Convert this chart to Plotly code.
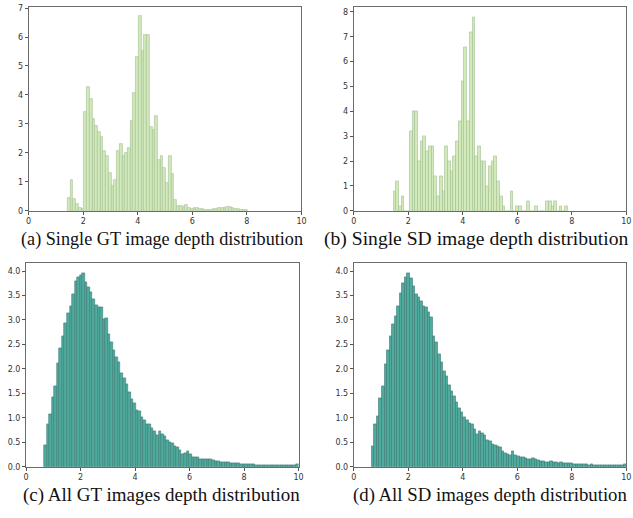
import plotly.graph_objects as go

# ---- data -------------------------------------------------------------
# Single GT image: depth histogram (bin width 0.1)
gt_single_start = 1.43
gt_single_width = 0.1
gt_single = [0.43, 1.08, 0.41, 0.24, 0.10, 0.07,
             3.40, 4.27, 3.86, 3.17, 2.93, 2.73, 2.56, 2.05, 1.91, 1.32, 0.85,
             1.08, 2.05, 2.31, 1.88, 1.98, 2.17, 3.10, 4.07, 5.32, 6.72, 5.51,
             6.06, 6.09, 2.90, 2.80, 3.27, 1.76, 1.88, 1.49, 0.95, 1.88, 1.28,
             0.38, 0.18, 0.15, 0.14, 0.19, 0.10, 0.07, 0.09, 0.08, 0.06, 0.05,
             0.04, 0.04, 0.04, 0.06, 0.07, 0.08, 0.11, 0.09, 0.13, 0.13, 0.08,
             0.06, 0.05, 0.04, 0.03, 0.02]

# Single SD image: depth histogram (bin width 0.1)
sd_single_start = 1.45
sd_single_width = 0.1
sd_single = [0.8, 1.2, 0.2, 0.6, 0.0, 0.0,
             3.2, 4.0, 4.0, 2.0, 2.8, 3.0, 2.4, 2.6, 2.6, 1.4,
             0.6, 1.4, 0.8, 2.6, 2.0, 1.6, 2.2, 2.8, 3.6, 5.2,
             6.6, 3.6, 7.2, 7.8, 2.2, 2.6, 2.0, 2.0, 1.0, 1.8,
             2.0, 2.2, 1.2, 0.6, 0.2, 0.0, 0.0, 0.8, 0.0, 0.2,
             0.2, 0.0, 0.0, 0.4, 0.0, 0.0, 0.2, 0.0, 0.0, 0.0,
             0.4, 0.4, 0.2, 0.4, 0.0, 0.2, 0.0, 0.2]

# All GT images: 100 bins up to depth 10
gt_all_start = 0.664
gt_all = [0.44, 0.86, 1.08, 1.42, 1.65, 2.11, 2.43, 2.66, 2.94, 3.13,
          3.29, 3.52, 3.79, 3.88, 3.91, 3.96, 3.77, 3.66, 3.56, 3.42,
          3.30, 3.26, 3.26, 3.02, 3.03, 2.70, 2.54, 2.38, 2.23, 2.13,
          1.91, 1.81, 1.68, 1.53, 1.38, 1.30, 1.15, 1.13, 1.01, 0.95,
          0.86, 0.87, 0.79, 0.72, 0.64, 0.72, 0.66, 0.63, 0.54, 0.50,
          0.48, 0.42, 0.39, 0.34, 0.25, 0.28, 0.31, 0.26, 0.20, 0.20,
          0.19, 0.15, 0.15, 0.15, 0.16, 0.16, 0.14, 0.11, 0.11, 0.10,
          0.09, 0.10, 0.09, 0.08, 0.07, 0.07, 0.07, 0.06, 0.06, 0.05,
          0.05, 0.05, 0.05, 0.04, 0.04, 0.04, 0.04, 0.03, 0.03, 0.03,
          0.03, 0.03, 0.03, 0.03, 0.03, 0.03, 0.03, 0.03, 0.04, 0.05]

# All SD images: 100 bins up to depth 10
sd_all_start = 0.652
sd_all = [0.42, 0.86, 1.04, 1.40, 1.65, 2.09, 2.39, 2.66, 2.91, 3.08,
          3.28, 3.55, 3.76, 3.87, 3.95, 3.85, 3.70, 3.53, 3.46, 3.39,
          3.28, 3.26, 3.16, 3.05, 2.66, 2.54, 2.29, 2.14, 1.96, 1.86,
          1.66, 1.54, 1.44, 1.31, 1.19, 1.12, 1.01, 0.96, 0.88, 0.87,
          0.76, 0.66, 0.72, 0.69, 0.64, 0.55, 0.52, 0.47, 0.43, 0.41,
          0.39, 0.32, 0.28, 0.25, 0.24, 0.31, 0.24, 0.21, 0.20, 0.19,
          0.17, 0.15, 0.16, 0.17, 0.16, 0.13, 0.12, 0.11, 0.10, 0.10,
          0.11, 0.09, 0.09, 0.08, 0.09, 0.07, 0.07, 0.07, 0.07, 0.05,
          0.06, 0.05, 0.05, 0.05, 0.05, 0.04, 0.05, 0.04, 0.04, 0.03,
          0.03, 0.03, 0.03, 0.03, 0.03, 0.03, 0.03, 0.04, 0.04, 0.06]

captions = ["(a) Single GT image depth distribution",
            "(b) Single SD image depth distribution",
            "(c) All GT images depth distribution",
            "(d) All SD images depth distribution"]

# ---- figure -----------------------------------------------------------
W, H = 633, 518
LIGHT_FILL, LIGHT_EDGE = "#d2e9ba", "#a3c093"
TEAL_FILL, TEAL_EDGE = "#4eab9e", "#3d7a73"


def centers(start, width, n):
    return [start + width * (i + 0.5) for i in range(n)]


def hist_trace(values, start, width, fill, edge, axis_id):
    suffix = "" if axis_id == 1 else str(axis_id)
    return go.Bar(
        x=centers(start, width, len(values)), y=values, width=width,
        marker=dict(color=fill, line=dict(color=edge, width=0.6)),
        xaxis="x" + suffix, yaxis="y" + suffix, showlegend=False,
        hoverinfo="x+y")


all_width_gt = (10 - gt_all_start) / len(gt_all)
all_width_sd = (10 - sd_all_start) / len(sd_all)

fig = go.Figure([
    hist_trace(gt_single, gt_single_start, gt_single_width, LIGHT_FILL, LIGHT_EDGE, 1),
    hist_trace(sd_single, sd_single_start, sd_single_width, LIGHT_FILL, LIGHT_EDGE, 2),
    hist_trace(gt_all, gt_all_start, all_width_gt, TEAL_FILL, TEAL_EDGE, 3),
    hist_trace(sd_all, sd_all_start, all_width_sd, TEAL_FILL, TEAL_EDGE, 4),
])

# plot-area boxes in pixels: (left, right, top, bottom)
boxes = [(26, 302.3, 4, 211), (355.3, 631.3, 4.3, 211),
         (23.3, 299.3, 264.3, 471), (355.3, 631.3, 264.3, 471)]
y_ranges = [(0, 7.04), (0, 8.19), (0, 4.16), (0, 4.16)]
y_ticks = [list(range(0, 8)), list(range(0, 9)),
           [i * 0.5 for i in range(9)], [i * 0.5 for i in range(9)]]

tick_font = dict(family="DejaVu Sans", size=8, color="#333333")
axis_common = dict(showgrid=False, zeroline=False, showline=True, mirror=True,
                   linecolor="#6b6b6b", linewidth=1, ticks="outside",
                   ticklen=3, tickwidth=1, tickcolor="#555555",
                   tickfont=tick_font, fixedrange=True)

layout = {}
for i, (l, r, t, b) in enumerate(boxes):
    s = "" if i == 0 else str(i + 1)
    layout["xaxis" + s] = dict(
        axis_common, domain=[l / W, r / W], range=[0, 10],
        tickvals=[0, 2, 4, 6, 8, 10], anchor="y" + s)
    layout["yaxis" + s] = dict(
        axis_common, domain=[(H - b) / H, (H - t) / H], range=list(y_ranges[i]),
        tickvals=y_ticks[i], tickformat=".1f" if i >= 2 else "d",
        anchor="x" + s)

# caption centre (px), vertical centre (px) and font size
cap_pos = [(161, 240, 18.2), (479.5, 240, 19.6), (160.5, 500, 19.0), (493, 500, 18.8)]
annotations = [dict(text=c, x=px / W, y=1 - py / H, xref="paper", yref="paper",
                    xanchor="center", yanchor="middle", showarrow=False,
                    font=dict(family="Liberation Serif", size=fs, color="#111111"))
               for c, (px, py, fs) in zip(captions, cap_pos)]

fig.update_layout(
    width=W, height=H, margin=dict(l=0, r=0, t=0, b=0),
    paper_bgcolor="white", plot_bgcolor="white",
    bargap=0, annotations=annotations, **layout)

fig.write_html("out.html", config={"displayModeBar": False})
